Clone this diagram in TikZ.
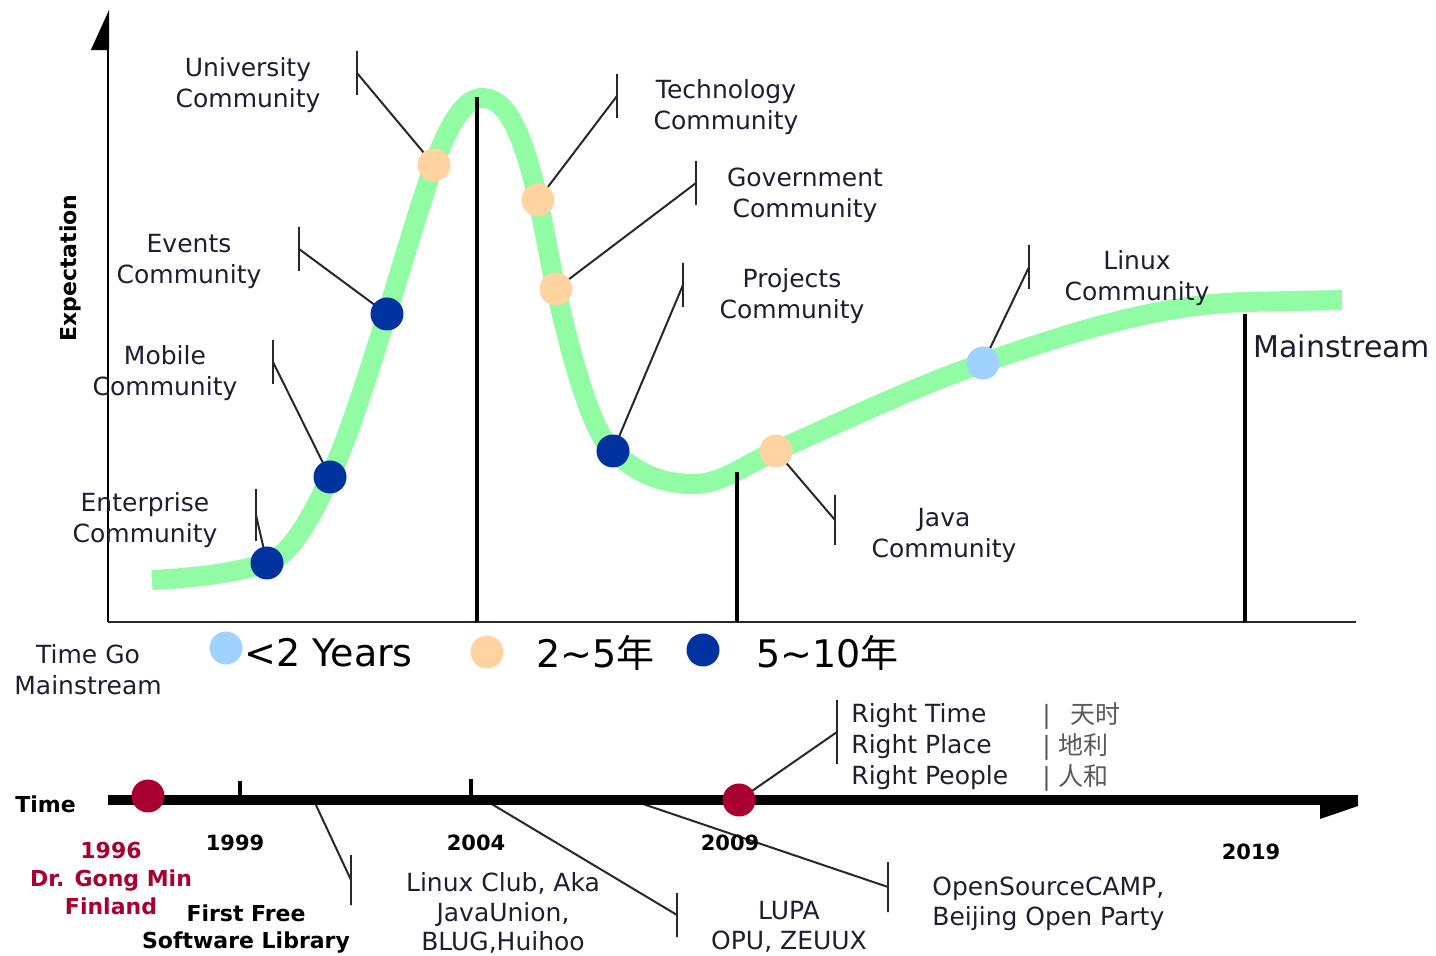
\documentclass[tikz,border=0pt]{standalone}
\usepackage{fontspec}
\setmainfont{DejaVu Sans}
\newfontfamily\cjk{Noto Sans CJK SC}
\usetikzlibrary{arrows.meta}
\pgfdeclarelayer{bg}
\pgfsetlayers{bg,main}
\definecolor{hypegreen}{RGB}{146,252,164}
\definecolor{lblue}{RGB}{160,210,255}
\definecolor{peach}{RGB}{255,212,160}
\definecolor{dblue}{RGB}{0,51,160}
\definecolor{crimson}{RGB}{168,0,48}
\definecolor{txt}{RGB}{30,30,50}
\definecolor{leadgray}{RGB}{40,40,40}
\tikzset{
    dot/.style={circle, inner sep=0mm, minimum size=16.5pt},
    tickmark/.style={rectangle, draw=leadgray, line width=1pt, inner sep=0mm, minimum width=0mm, minimum height=22pt},
    leader/.style={draw=leadgray, line width=1pt},
    lbl/.style={align=center, text=txt, inner sep=0mm, font=\fontsize{12.5}{15.5}\selectfont},
    yr/.style={inner sep=0mm, font=\bfseries\fontsize{10.5}{12}\selectfont},
    legend/.style={anchor=west, inner sep=0mm, font=\fontsize{19}{21}\selectfont}
}

\begin{document}
\begin{tikzpicture}[x=0.5pt, y=-0.5pt]
    \useasboundingbox (0,0) rectangle (1436,956);

    % axes
    \coordinate (origin) at (108,622);
    \coordinate (ytop) at (108,10);
    \coordinate (xend) at (1356,622);
    \draw[line width=1pt, draw=black, -{Triangle[left, length=19pt, width=17pt]}] (origin) -- (ytop);
    \draw[line width=1pt, draw=leadgray] (origin) -- (xend);
    \node (expL) [rotate=90, inner sep=0mm, font=\bfseries\fontsize{11}{12}\selectfont] at (70,268) {Expectation};

    % dots on the hype curve
    \node (ent) [dot, fill=dblue] at (267,563) {};
    \node (mob) [dot, fill=dblue] at (330,477) {};
    \node (evt) [dot, fill=dblue] at (387,314) {};
    \node (uni) [dot, fill=peach] at (434,165) {};
    \node (tech) [dot, fill=peach] at (538,200) {};
    \node (gov) [dot, fill=peach] at (556,289) {};
    \node (proj) [dot, fill=dblue] at (613,451) {};
    \node (java) [dot, fill=peach] at (776,451) {};
    \node (linux) [dot, fill=lblue] at (983,363) {};

    % ticks at the end of the leaders
    \node (entT) [tickmark, minimum height=26pt] at (256,515) {};
    \node (mobT) [tickmark] at (273,362) {};
    \node (evtT) [tickmark] at (299,249) {};
    \node (uniT) [tickmark] at (357,73) {};
    \node (techT) [tickmark] at (617,96) {};
    \node (govT) [tickmark] at (696,183) {};
    \node (projT) [tickmark] at (683,285) {};
    \node (javaT) [tickmark, minimum height=25pt] at (835,520) {};
    \node (linuxT) [tickmark] at (1029,267) {};

    % community labels
    \node (entL) [lbl] at (145,520) {Enterprise\\Community};
    \node (mobL) [lbl] at (165,373) {Mobile\\Community};
    \node (evtL) [lbl] at (189,261) {Events\\Community};
    \node (uniL) [lbl] at (248,85) {University\\Community};
    \node (techL) [lbl] at (726,107) {Technology\\Community};
    \node (govL) [lbl] at (805,195) {Government\\Community};
    \node (projL) [lbl] at (792,296) {Projects\\Community};
    \node (javaL) [lbl] at (944,535) {Java\\Community};
    \node (linuxL) [lbl] at (1137,278) {Linux\\Community};
    \node (mainL) [anchor=west, inner sep=0mm, text=txt, font=\fontsize{15}{17}\selectfont] at (1253,346) {Mainstream};

    % phase lines
    \coordinate (peak) at (477,97);
    \coordinate (trough) at (737,472);
    \coordinate (mainst) at (1245,314);
    \draw[line width=2pt] (peak) -- (peak |- origin);
    \draw[line width=2pt] (trough) -- (trough |- origin);
    \draw[line width=2pt] (mainst) -- (mainst |- origin);

    \begin{pgfonlayer}{bg}
        \draw[hypegreen, line width=10pt] (152,580)
            .. controls (190,578) and (229,574.5) .. (ent.center)
            .. controls (288,557) and (309,523) .. (mob.center)
            .. controls (349,435) and (368,375) .. (evt.center)
            .. controls (402.7,264) and (418.3,209) .. (uni.center)
            .. controls (450,120) and (466,98) .. (482,98)
            .. controls (500.7,98) and (519.3,116) .. (tech.center)
            .. controls (544,227) and (550,262) .. (gov.center)
            .. controls (575,374.5) and (594,434) .. (proj.center)
            .. controls (640,476) and (665,484) .. (695,484)
            .. controls (722,484) and (749,462.3) .. (java.center)
            .. controls (845,420) and (914,387) .. (linux.center)
            .. controls (1070.3,332.4) and (1157.7,304.6) .. (1245,302)
            -- (1342,300);

        \draw[leader] (ent.center) -- (entT.center);
        \draw[leader] (mob.center) -- (mobT.center);
        \draw[leader] (evt.center) -- (evtT.center);
        \draw[leader] (uni.center) -- (uniT.center);
        \draw[leader] (tech.center) -- (techT.center);
        \draw[leader] (gov.center) -- (govT.center);
        \draw[leader] (proj.center) -- (projT.center);
        \draw[leader] (java.center) -- (javaT.center);
        \draw[leader] (linux.center) -- (linuxT.center);
    \end{pgfonlayer}

    % legend
    \node (tgmL) [anchor=west, align=left, lbl] at (14,670) {Time Go\\Mainstream};
    \node (lgA) [dot, fill=lblue] at (226,648) {};
    \node (lgB) [dot, fill=peach] at (487,652) {};
    \node (lgC) [dot, fill=dblue] at (703,650) {};
    \node (lgAL) [legend] at (244,653) {<2 Years};
    \node (lgBL) [legend] at (536,653) {2\textasciitilde 5{\cjk 年}};
    \node (lgCL) [legend] at (756,653) {5\textasciitilde 10{\cjk 年}};

    % time line
    \coordinate (tl0) at (108,800);
    \coordinate (tl1) at (1358,800);
    \draw[line width=5pt] (tl0) -- (tl1);
    \fill (tl1) -- ++(0,6) -- ++(-38,13) -- ++(0,-19) -- cycle;
    \node (timeL) [anchor=west, inner sep=0mm, font=\bfseries\fontsize{11}{12}\selectfont] at (15,804) {Time};
    \coordinate (t99) at (240,781);
    \coordinate (t04) at (471,779);
    \draw[line width=2pt] (t99) -- (t99 |- tl0);
    \draw[line width=2pt] (t04) -- (t04 |- tl0);

    \node (y96) [dot, fill=crimson] at (148,796) {};
    \node (y09) [dot, fill=crimson] at (739,800) {};

    \node (y99L) [yr] at (235,843) {1999};
    \node (y04L) [yr] at (476,843) {2004};
    \node (y09L) [yr] at (730,843) {2009};
    \node (y19L) [yr] at (1251,852) {2019};
    \node (gongL) [align=center, text=crimson, inner sep=0mm, font=\bfseries\fontsize{11}{14}\selectfont] at (111,879) {1996\\Dr. Gong Min\\Finland};
    \node (ffslL) [align=center, inner sep=0mm, font=\bfseries\fontsize{11}{13.5}\selectfont] at (246,929) {First Free\\Software Library};
    \node (clubL) [lbl, font=\fontsize{12.5}{14.8}\selectfont] at (503,913) {Linux Club, Aka\\JavaUnion,\\BLUG,Huihoo};
    \node (lupaL) [lbl, font=\fontsize{12.5}{14.8}\selectfont] at (789,927) {LUPA\\OPU, ZEUUX};
    \node (campL) [lbl, anchor=west, align=left, font=\fontsize{12.5}{14.8}\selectfont] at (932,904) {OpenSourceCAMP,\\Beijing Open Party};
    \node (rightL) [lbl, anchor=west, align=left] at (851,747) {Right Time\\Right Place\\Right People};
    \node (cnL) [lbl, anchor=west, align=left, text=black!65] at (1042,747) {|\hspace{10pt}{\cjk 天时}\\|\hspace{4pt}{\cjk 地利}\\|\hspace{4pt}{\cjk 人和}};

    \node (ffslT) [tickmark, minimum height=25pt] at (351,880) {};
    \node (clubT) [tickmark] at (677,915) {};
    \node (campT) [tickmark, minimum height=25pt] at (888,887) {};
    \node (rightT) [tickmark, minimum height=32pt] at (837,732) {};
    \coordinate (ffslA) at (315,803);
    \coordinate (clubA) at (490,803);
    \coordinate (campA) at (640,803);

    \begin{pgfonlayer}{bg}
        \draw[leader] (ffslA) -- (ffslT.center);
        \draw[leader] (clubA) -- (clubT.center);
        \draw[leader] (campA) -- (campT.center);
        \draw[leader] (y09.center) -- (rightT.center);
    \end{pgfonlayer}
\end{tikzpicture}
\end{document}
